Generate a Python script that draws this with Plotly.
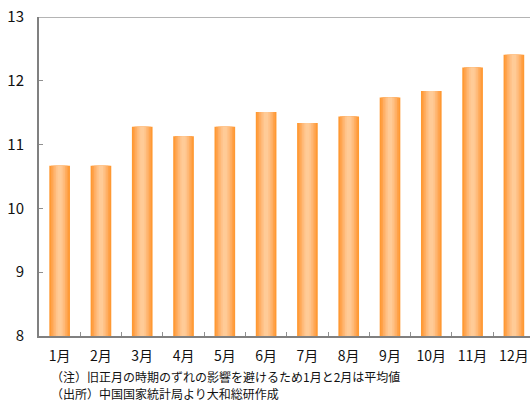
import plotly.graph_objects as go

months = ["1月", "2月", "3月", "4月", "5月", "6月", "7月", "8月", "9月", "10月", "11月", "12月"]
values = [10.67, 10.67, 11.28, 11.13, 11.28, 11.51, 11.34, 11.44, 11.74, 11.84, 12.21, 12.41]
y_ticks = [8, 9, 10, 11, 12, 13]
notes = ["（注）旧正月の時期のずれの影響を避けるため1月と2月は平均値",
         "（出所）中国国家統計局より大和総研作成"]

FONT = "Noto Sans CJK JP"

# gradient emulation: stacked overlay of narrowing bars
layers = [
    (0.50, "#FF9933"),
    (0.42, "#FFA24A"),
    (0.34, "#FFAE62"),
    (0.26, "#FFB977"),
    (0.18, "#FFC38A"),
    (0.10, "#FFCB97"),
]

fig = go.Figure()
for w, c in layers:
    fig.add_trace(go.Bar(
        x=months, y=[v - 8 for v in values], base=8, width=w,
        marker=dict(color=c, line=dict(width=0)),
        hoverinfo="skip", showlegend=False,
    ))

fig.update_layout(
    width=530, height=403,
    margin=dict(l=39, r=0, t=17, b=67),
    paper_bgcolor="white", plot_bgcolor="white",
    barmode="overlay",
    font=dict(family=FONT, color="#111111"),
    showlegend=False,
)

fig.update_xaxes(
    type="category", range=[-0.5, 11.39],
    tickson="boundaries", ticks="inside", ticklen=4, tickcolor="#909090",
    showline=True, linecolor="#808080", linewidth=2,
    showgrid=False, zeroline=False,
    tickfont=dict(size=14, family=FONT),
    ticklabelstandoff=6,
)
fig.update_yaxes(
    range=[8, 13], tickvals=y_ticks,
    ticks="inside", ticklen=4, tickcolor="#909090",
    showline=True, linecolor="#808080", linewidth=2,
    showgrid=False, zeroline=False,
    tickfont=dict(size=15, family=FONT),
    ticklabelstandoff=10,
)

fig.add_shape(type="line", xref="paper", yref="y", x0=0, x1=1, y0=13, y1=13,
              line=dict(color="#B4B4B4", width=2))

plot_h = 403 - 17 - 67
for t, ypx in zip(notes, [376.5, 393.5]):
    fig.add_annotation(text=t, xref="paper", yref="paper",
                       x=0.022, y=-(ypx - 336) / plot_h, xanchor="left", yanchor="middle",
                       showarrow=False, borderpad=0,
                       font=dict(size=12, family=FONT, color="#111111"))

fig.write_html("out.html")
